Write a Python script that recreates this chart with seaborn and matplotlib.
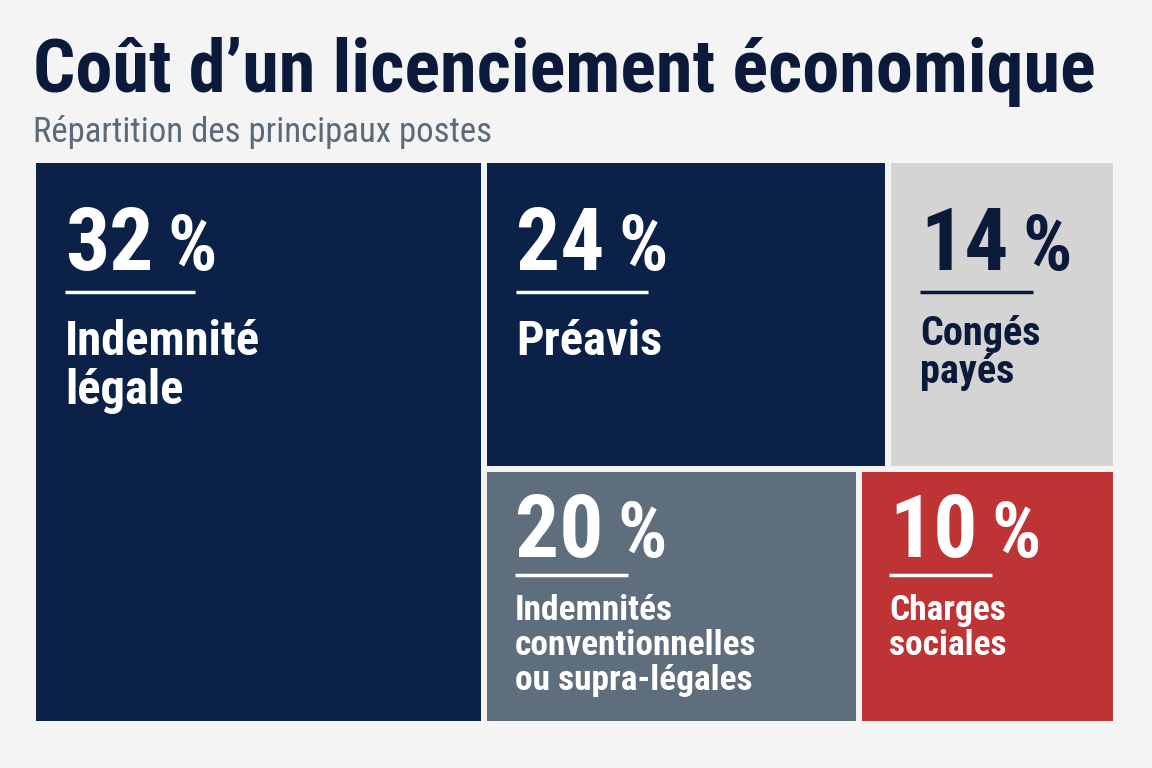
import matplotlib
matplotlib.use("Agg")
import matplotlib.pyplot as plt
from matplotlib.patches import Rectangle
from matplotlib import font_manager
import seaborn as sns

# data
categories = ["Indemnité\nlégale", "Préavis", "Congés\npayés",
              "Indemnités\nconventionnelles\nou supra-légales", "Charges\nsociales"]
shares = [32, 24, 14, 20, 10]
box_colors = ["#0B2148", "#0B2148", "#D4D4D4", "#5E6E7D", "#BE3434"]
text_colors = ["white", "white", "#0B1A3A", "white", "white"]

title = "Coût d\u2019un licenciement économique"
subtitle = "Répartition des principaux postes"

sns.set_theme(style="white")
names = {f.name for f in font_manager.fontManager.ttflist}
fams = [n for n in ["Roboto Condensed", "Barlow Condensed", "Roboto"] if n in names]
plt.rcParams["font.family"] = fams[:1] + ["DejaVu Sans"]

# layout (pixels)
X0, X1, Y0, Y1, GAP = 36, 1113, 163, 721, 6
LEFT_W, TOP_H, TOP_SPLIT, BOT_SPLIT = 445, 303, 398, 369

xr = X0 + LEFT_W + GAP
yb = Y0 + TOP_H + GAP
rects = [
    (X0, Y0, LEFT_W, Y1 - Y0),
    (xr, Y0, TOP_SPLIT, TOP_H),
    (xr + TOP_SPLIT + GAP, Y0, X1 - (xr + TOP_SPLIT + GAP), TOP_H),
    (xr, yb, BOT_SPLIT, Y1 - yb),
    (xr + BOT_SPLIT + GAP, yb, X1 - (xr + BOT_SPLIT + GAP), Y1 - yb),
]
# per box text styling: pad_x, num baseline, rule y, rule width, label baseline, label size, line step
styles = [
    (29, 107, 129, 130, 192, 35, 49),
    (29, 107, 129, 132, 192, 35, 49),
    (29, 107, 129, 113, 182, 29, 38),
    (28, 85, 103, 113, 148, 25.5, 35),
    (27, 85, 103, 103, 148, 25.5, 35),
]

fig = plt.figure(figsize=(11.52, 7.68), dpi=100)
fig.patch.set_facecolor("#F4F4F4")
ax = fig.add_axes([0, 0, 1, 1])
ax.set_xlim(0, 1152)
ax.set_ylim(768, 0)
ax.axis("off")

ax.text(33, 92, title, fontsize=53.5, fontweight="bold", color="#0B1A3A", va="baseline")
ax.text(33, 142, subtitle, fontsize=25, color="#5B6A79", va="baseline")

fig.canvas.draw()
renderer = fig.canvas.get_renderer()
inv = ax.transData.inverted()

for (x, y, w, h), val, lab, bc, tc, st in zip(rects, shares, categories, box_colors, text_colors, styles):
    ax.add_patch(Rectangle((x, y), w, h, facecolor=bc, edgecolor="none"))
    px, nb, ry, rw, lb, ls, step = st
    t = ax.text(x + px, y + nb, str(val), fontsize=63, fontweight="bold", color=tc, va="baseline")
    ext = t.get_window_extent(renderer)
    xe = inv.transform((ext.x1, ext.y0))[0]
    ax.text(xe + 14, y + nb, "%", fontsize=56, fontweight="bold", color=tc, va="baseline")
    ax.plot([x + px, x + px + rw], [y + ry, y + ry], color=tc, lw=2.5, solid_capstyle="butt")
    for i, line in enumerate(lab.split("\n")):
        ax.text(x + px, y + lb + i * step, line, fontsize=ls, fontweight="bold", color=tc, va="baseline")

fig.savefig("out.png", dpi=100, facecolor=fig.get_facecolor())
